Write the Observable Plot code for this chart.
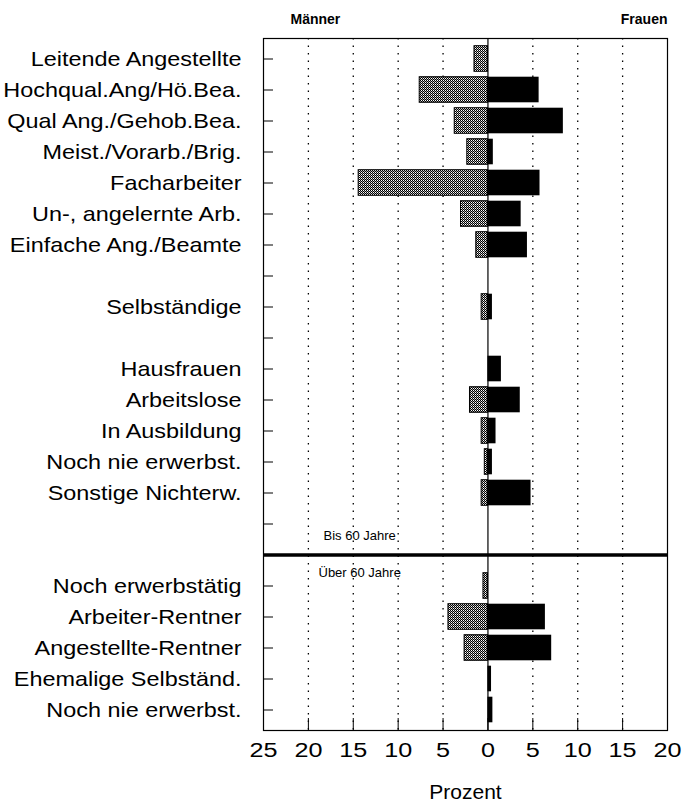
<!DOCTYPE html>
<html><head><meta charset="utf-8">
<script src="https://cdn.jsdelivr.net/npm/d3@7"></script>
<script src="https://cdn.jsdelivr.net/npm/@observablehq/plot@0.6"></script>
<style>
body{margin:0;background:#fff;}
#chart svg{font-family:"Liberation Sans",Arial,Helvetica,sans-serif;}
</style>
</head><body><div id="chart"></div>
<script>
const categories = ["Leitende Angestellte","Hochqual.Ang/Hö.Bea.","Qual Ang./Gehob.Bea.","Meist./Vorarb./Brig.","Facharbeiter","Un-, angelernte Arb.","Einfache Ang./Beamte","","Selbständige","","Hausfrauen","Arbeitslose","In Ausbildung","Noch nie erwerbst.","Sonstige Nichterw.","","","Noch erwerbstätig","Arbeiter-Rentner","Angestellte-Rentner","Ehemalige Selbständ.","Noch nie erwerbst."];
const maenner = [1.5,7.6,3.7,2.3,14.4,3.0,1.3,0,0.7,0,0,2.0,0.7,0.35,0.7,0,0,0.5,4.4,2.6,0,0];
const frauen  = [0,5.7,8.4,0.6,5.8,3.7,4.4,0,0.5,0,1.5,3.6,0.9,0.5,4.8,0,0,0,6.4,7.1,0.4,0.55];
const xTicks = [-25,-20,-15,-10,-5,0,5,10,15,20];
const gridTicks = [-20,-15,-10,-5,5,10,15];
const separatorRow = 16;
const sectionLabels = ["Bis 60 Jahre","Über 60 Jahre"];
const sideLabels = ["Männer","Frauen"];
const axisTitle = "Prozent";

const rows = categories.map((c, i) => ({i, label: c, m: maenner[i], f: frauen[i]}));
const tickRows = d3.range(categories.length).filter(i => i !== separatorRow);

const plot = Plot.plot({
  width: 682, height: 810,
  marginTop: 38, marginBottom: 80, marginLeft: 263, marginRight: 15,
  style: {color: "black", background: "white", fontSize: "20px"},
  x: {domain: [-25, 20]},
  y: {type: "band", domain: d3.range(categories.length), padding: 0},
  marks: [
    Plot.ruleX(gridTicks, {strokeDasharray: "1.5,6", strokeWidth: 1.3}),
    Plot.barX(rows.filter(d => d.m > 0), {x1: 0, x2: d => -d.m, y: "i", fill: "#808080", stroke: "black", strokeWidth: 1, insetTop: 2.7, insetBottom: 2.7}),
    Plot.barX(rows.filter(d => d.f > 0), {x1: 0, x2: "f", y: "i", fill: "black", insetTop: 2.7, insetBottom: 2.7}),
    Plot.ruleX([0], {stroke: "black", strokeWidth: 1.2}),
    Plot.ruleY([separatorRow], {stroke: "black", strokeWidth: 3.5}),
    Plot.frame({stroke: "black", strokeWidth: 1.2}),
    Plot.axisY(tickRows, {tickSize: -10, fill: "none", label: null}),
    Plot.axisY(tickRows, {tickSize: 0, tickPadding: 22, tickFormat: i => categories[i], label: null, fontSize: 21, className: "ylab"}),
    Plot.axisX(xTicks, {tickSize: -12, fill: "none", label: null}),
    Plot.axisX(xTicks, {tickSize: 0, tickPadding: 12, tickFormat: d => Math.abs(d), label: null, fontSize: 21, className: "xlab"}),
    Plot.text([axisTitle], {frameAnchor: "bottom", dy: 68, fontSize: 21}),
    Plot.text([sideLabels[0]], {frameAnchor: "top-left", textAnchor: "start", dx: 27, dy: -24, fontSize: 14, fontWeight: "bold"}),
    Plot.text([sideLabels[1]], {frameAnchor: "top-right", textAnchor: "end", dx: 0, dy: -24, fontSize: 14, fontWeight: "bold"}),
    Plot.text([sectionLabels[0]], {y: () => separatorRow, frameAnchor: "left", textAnchor: "start", dx: 60, dy: -19, fontSize: 13}),
    Plot.text([sectionLabels[1]], {y: () => separatorRow, frameAnchor: "left", textAnchor: "start", dx: 55, dy: 18, fontSize: 13})
  ]
});

const svg = d3.select(plot);
const defs = svg.insert("defs", ":first-child");
const pat = defs.append("pattern").attr("id", "stipple").attr("width", 2).attr("height", 2).attr("patternUnits", "userSpaceOnUse");
pat.append("rect").attr("width", 2).attr("height", 2).attr("fill", "black");
pat.append("rect").attr("x", 1).attr("y", 0).attr("width", 1).attr("height", 1).attr("fill", "white");
pat.append("rect").attr("x", 0).attr("y", 1).attr("width", 1).attr("height", 1).attr("fill", "#a0a0a0");
svg.selectAll('[fill="#808080"]').attr("fill", "url(#stipple)");

// horizontally widen the label glyphs to match the reference's wide lettering
function stretch(selector, k) {
  svg.selectAll(selector).each(function() {
    const t = this.getAttribute("transform") || "";
    this.setAttribute("transform", t + ` scale(${k},1)`);
  });
}
stretch(".ylab text", 1.115);
stretch(".xlab text", 1.2);

document.getElementById("chart").append(plot);
</script>
</body></html>
